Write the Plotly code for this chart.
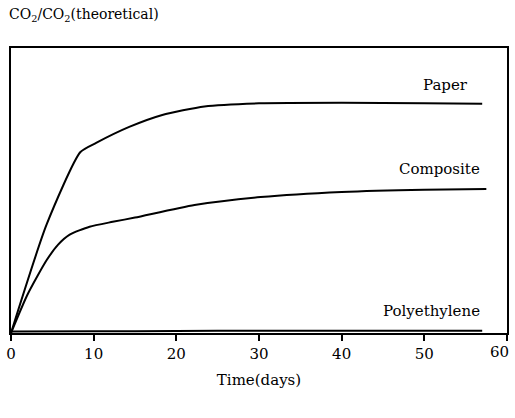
import plotly.graph_objects as go

days_paper = [0, 4.3, 8.4, 10.3, 14.3, 18.3, 23.4, 30, 40, 50, 57]
paper = [0, 0.38, 0.635, 0.667, 0.723, 0.765, 0.795, 0.806, 0.808, 0.806, 0.804]

days_comp = [0, 2, 4.3, 5.7, 7.1, 9.5, 12.3, 15, 22.2, 30.2, 40, 50, 57.5]
composite = [0, 0.135, 0.255, 0.31, 0.345, 0.373, 0.39, 0.405, 0.449, 0.477, 0.495, 0.503, 0.505]

days_pe = [0, 10, 20, 30, 40, 50, 57]
polyethylene = [0.005, 0.006, 0.007, 0.008, 0.008, 0.008, 0.008]

labels = ["Paper", "Composite", "Polyethylene"]
x_ticks = [0, 10, 20, 30, 40, 50, 60]

serif = "DejaVu Serif"
fig = go.Figure()
for xs, ys in [(days_paper, paper), (days_comp, composite), (days_pe, polyethylene)]:
    fig.add_trace(go.Scatter(x=xs, y=ys, mode="lines",
                             line=dict(color="black", width=2, shape="spline", smoothing=0.6),
                             showlegend=False))

label_pos = [(55.5, 0.80), (57, 0.505), (57, 0.008)]
for name, (lx, ly) in zip(labels, label_pos):
    fig.add_annotation(x=lx, y=ly, text=name, showarrow=False, xanchor="right",
                       yanchor="bottom", yshift=9, font=dict(family=serif, size=15, color="black"))

fig.add_annotation(text="CO<sub>2</sub>/CO<sub>2</sub>(theoretical)", xref="paper", yref="paper",
                   x=0, y=1, xanchor="left", yanchor="bottom", xshift=-4, yshift=22,
                   showarrow=False, font=dict(family=serif, size=14, color="black"))

# last tick label drawn as annotation so it is not clipped at the right edge
fig.add_annotation(text=str(x_ticks[-1]), x=x_ticks[-1], xref="x", yref="paper", y=0,
                   xanchor="right", yanchor="top", yshift=-8, xshift=4, showarrow=False,
                   font=dict(family=serif, size=15, color="black"))

fig.update_xaxes(range=[0, 60], tickvals=x_ticks,
                 ticktext=[str(t) for t in x_ticks[:-1]] + [""],
                 showline=True, linecolor="black", linewidth=2, mirror=True,
                 ticks="outside", ticklen=6, tickwidth=2, tickcolor="black",
                 showgrid=False, zeroline=False,
                 tickfont=dict(family=serif, size=15, color="black"),
                 title=dict(text="Time(days)", font=dict(family=serif, size=15, color="black"), standoff=12))
fig.update_yaxes(range=[0, 1], showticklabels=False, showline=True, linecolor="black",
                 linewidth=2, mirror=True, showgrid=False, zeroline=False, ticks="")

fig.update_layout(width=515, height=418, margin=dict(l=7, r=6, t=48, b=85),
                  plot_bgcolor="white", paper_bgcolor="white")
fig.write_html("out.html")
